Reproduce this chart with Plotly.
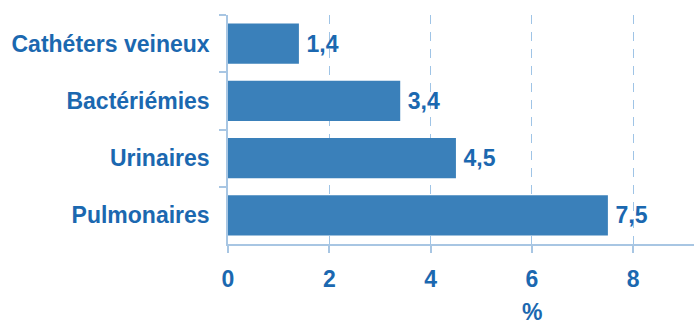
import plotly.graph_objects as go

categories = ["Cathéters veineux", "Bactériémies", "Urinaires", "Pulmonaires"]
values = [1.4, 3.4, 4.5, 7.5]
tick_vals = [0, 2, 4, 6, 8]
labels = [str(v).replace(".", ",") for v in values]

TXT = "#1b68b0"
BAR = "#3a80ba"
AX = "#a8c6e3"
FONT = "Liberation Sans"
FS = 23

fig = go.Figure(go.Bar(
    x=values, y=categories, orientation="h",
    marker=dict(color=BAR, line=dict(width=0)),
    text=labels, texttemplate="\u2009%{text}", textposition="outside", cliponaxis=False,
    textfont=dict(family=FONT, size=FS, color=TXT, weight="bold"),
    width=0.7,
))

fig.update_layout(
    width=694, height=324,
    margin=dict(l=228, r=0, t=15, b=80, autoexpand=False),
    paper_bgcolor="white", plot_bgcolor="white",
    showlegend=False,
    separators=", ",
    font=dict(family=FONT, size=FS, color=TXT, weight="bold"),
    xaxis=dict(
        range=[0, 9.2], tickvals=tick_vals, automargin=False,
        showgrid=True, gridcolor="#9fc4e6", griddash="9px,8px", gridwidth=1,
        showline=True, linecolor=AX, linewidth=1.5,
        ticks="outside", ticklen=7, tickcolor=AX, tickwidth=1.5,
        ticklabelstandoff=7, zeroline=False,
        tickfont=dict(family=FONT, size=FS, color=TXT, weight="bold"),
    ),
    yaxis=dict(
        autorange="reversed", automargin=False,
        showline=True, linecolor=AX, linewidth=1.5,
        ticks="outside", tickson="boundaries", ticklen=7, tickcolor=AX, tickwidth=1.5,
        ticklabelstandoff=12, showgrid=False,
        tickfont=dict(family=FONT, size=FS, color=TXT, weight="bold"),
    ),
    annotations=[dict(
        x=6, y=0, xref="x", yref="paper", yshift=-68, yanchor="middle", text="%",
        showarrow=False, font=dict(family=FONT, size=FS, color=TXT, weight="bold"),
    )],
)

fig.write_html("out.html", config={"displayModeBar": False},
               post_script="document.body.style.margin='0';")
